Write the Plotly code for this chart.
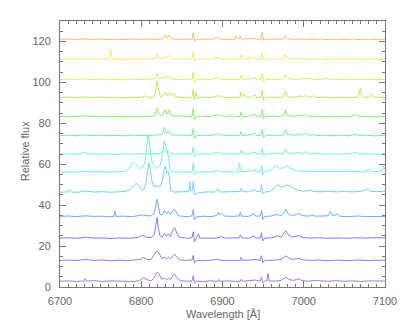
import plotly.graph_objects as go

# each spectrum: (wavelength [A], relative flux incl. vertical offset), bottom to top
spec_01 = [(6700, 2.8), (6710, 3.0), (6720, 2.7), (6729.5, 2.9), (6731, 4.2), (6732.5, 2.9), (6742, 3.1), (6752, 2.7),
           (6762, 3.0), (6772, 2.8), (6782, 2.9), (6792, 2.7), (6798, 3.2), (6803, 4.6), (6807, 3.6), (6812, 3.0),
           (6816, 4.5), (6819, 7.1), (6822, 6.5), (6825, 3.8), (6828.5, 4.5), (6831, 3.5), (6833.5, 4.3), (6836, 3.6),
           (6839, 5.8), (6841, 6.3), (6844, 4.5), (6848, 3.1), (6855, 2.8), (6862.5, 3.0), (6864, 5.5), (6865.5, 1.8),
           (6868, 2.9), (6875, 2.7), (6885, 3.0), (6894, 2.8), (6895.5, 3.6), (6897, 2.8), (6908, 3.0), (6916, 2.7),
           (6922, 2.9), (6923, 3.8), (6924.5, 2.8), (6932, 3.0), (6940, 3.4), (6946.5, 2.9), (6948, 4.9), (6949.5, 2.0),
           (6952, 2.9), (6954.5, 3.0), (6956, 6.6), (6957.5, 3.0), (6965, 2.9), (6972, 3.2), (6976, 4.3), (6978, 4.8),
           (6981, 3.9), (6986, 3.2), (6991, 3.6), (6994, 3.9), (6998, 3.1), (7006, 2.8), (7012, 3.2), (7020, 2.9),
           (7030, 2.8), (7040, 3.1), (7050, 2.8), (7060, 3.0), (7070, 2.7), (7080, 3.0), (7090, 2.8), (7100, 2.9)]
spec_02 = [(6700, 13.0), (6710, 13.2), (6720, 12.9), (6731, 13.5), (6742, 13.0), (6752, 13.2), (6762, 12.8), (6772, 13.1),
           (6782, 12.9), (6792, 13.0), (6798, 13.4), (6803, 14.4), (6807, 13.5), (6812, 13.4), (6816, 15.5), (6819, 17.6),
           (6822, 16.5), (6825, 14.0), (6828.5, 14.6), (6831, 13.8), (6833.5, 14.5), (6836, 13.8), (6839, 15.3), (6841, 16.0),
           (6844, 14.5), (6848, 13.2), (6855, 13.0), (6862.5, 13.2), (6864, 15.5), (6865.5, 11.8), (6868, 13.0), (6876, 12.8),
           (6886, 13.1), (6895, 13.6), (6897, 13.0), (6908, 13.1), (6922, 13.0), (6923, 14.5), (6924.5, 13.0), (6934, 13.2),
           (6940, 13.5), (6946.5, 13.0), (6948, 15.3), (6949.5, 11.9), (6952, 13.0), (6962, 13.1), (6972, 13.4), (6976, 14.8),
           (6978, 15.2), (6981, 14.3), (6986, 13.5), (6991, 13.8), (6994, 14.0), (6998, 13.3), (7008, 13.0), (7018, 13.2),
           (7030, 12.9), (7042, 13.1), (7054, 12.9), (7066, 13.2), (7078, 12.9), (7090, 13.1), (7100, 13.0)]
spec_03 = [(6700, 23.9), (6710, 24.1), (6720, 23.8), (6731, 24.3), (6742, 23.9), (6752, 24.0), (6762, 23.7), (6772, 24.0),
           (6782, 23.8), (6792, 24.0), (6798, 24.5), (6802, 25.5), (6806, 24.3), (6812, 24.2), (6816, 25.5), (6818, 30.0),
           (6819.5, 34.0), (6821, 29.0), (6823, 25.0), (6826, 24.5), (6828.5, 26.2), (6831, 24.8), (6833.5, 26.0), (6836, 24.6),
           (6839, 28.0), (6841, 29.0), (6843, 27.0), (6846, 24.5), (6852, 24.0), (6858, 23.8), (6862.5, 24.2), (6864, 27.0),
           (6865.5, 22.0), (6868, 23.8), (6870.5, 26.0), (6872, 23.9), (6880, 24.0), (6890, 23.8), (6900, 24.6), (6902, 23.9),
           (6912, 24.0), (6920.5, 24.0), (6922, 25.4), (6923.5, 24.0), (6932, 23.8), (6939, 24.9), (6941, 23.9), (6946.5, 24.0),
           (6948, 26.5), (6949.5, 22.5), (6952, 23.9), (6960, 24.0), (6968, 25.0), (6972, 24.3), (6976, 26.5), (6978, 27.5),
           (6980, 26.0), (6985, 24.5), (6991, 24.8), (6994, 25.2), (6998, 24.2), (7008, 23.9), (7018, 24.1), (7030, 23.8),
           (7042, 24.0), (7054, 23.8), (7066, 24.1), (7078, 23.9), (7090, 24.1), (7100, 24.0)]
spec_04 = [(6700, 34.5), (6710, 34.7), (6720, 34.4), (6731, 34.8), (6742, 34.5), (6752, 34.6), (6760, 34.3), (6766, 34.5),
           (6767.5, 37.0), (6769, 34.5), (6778, 34.6), (6788, 34.4), (6796, 34.8), (6801, 35.2), (6806, 34.9), (6812, 34.7),
           (6816, 36.0), (6818, 40.5), (6819.5, 43.0), (6821, 39.5), (6823, 35.5), (6826, 35.2), (6828.5, 37.5), (6831, 35.8),
           (6833.5, 37.0), (6836, 35.3), (6839, 37.5), (6841, 38.0), (6843, 36.5), (6846, 34.8), (6852, 34.5), (6858, 34.4),
           (6862.5, 34.8), (6864, 38.0), (6865.5, 32.8), (6868, 34.3), (6876, 34.6), (6886, 34.4), (6893, 35.0), (6895, 36.5),
           (6897, 35.2), (6899, 36.0), (6902, 34.7), (6912, 34.5), (6920.5, 34.7), (6922, 36.5), (6923.5, 34.6), (6932, 34.5),
           (6939, 35.8), (6941, 34.6), (6946.5, 34.7), (6948, 37.5), (6949.5, 33.0), (6952, 34.5), (6960, 34.7), (6967, 35.5),
           (6972, 34.8), (6976, 36.5), (6978, 38.0), (6980, 36.0), (6985, 35.0), (6991, 35.3), (6994, 36.0), (6998, 34.9),
           (7006, 34.6), (7010, 35.3), (7014, 34.6), (7024, 34.5), (7030, 34.8), (7033, 36.8), (7036, 34.8), (7041, 35.6),
           (7044, 34.6), (7054, 34.4), (7066, 34.7), (7078, 34.4), (7090, 34.6), (7100, 34.5)]
spec_05 = [(6700, 46.3), (6710, 46.5), (6712, 47.6), (6714, 46.4), (6722, 46.3), (6731, 46.9), (6742, 46.4), (6752, 46.6),
           (6762, 46.3), (6772, 46.6), (6780, 46.7), (6786, 47.5), (6790, 49.0), (6794, 50.8), (6797, 49.5), (6800, 47.8),
           (6803, 47.5), (6806, 51.0), (6808, 57.5), (6809.5, 60.5), (6811, 58.0), (6813, 52.0), (6816, 49.0), (6819.5, 49.5),
           (6823, 49.0), (6826, 52.0), (6828, 57.5), (6829.7, 58.8), (6831.5, 55.5), (6833.7, 56.4), (6835, 52.0), (6836.5, 47.0),
           (6840, 46.4), (6848, 46.5), (6855, 46.4), (6858.5, 46.6), (6859.7, 51.5), (6861, 47.0), (6862.7, 47.0), (6864, 51.5),
           (6865.5, 45.2), (6868, 45.8), (6874, 46.2), (6882, 46.5), (6890, 46.4), (6895, 47.8), (6897, 46.4), (6908, 46.6),
           (6916, 46.4), (6922, 46.7), (6923, 48.3), (6924.5, 46.6), (6932, 46.5), (6940, 47.6), (6942, 46.6), (6946.5, 46.8),
           (6948, 49.8), (6949.5, 45.5), (6952, 46.4), (6958, 46.7), (6963, 48.0), (6968, 50.0), (6973, 48.7), (6979, 49.8),
           (6983, 49.5), (6988, 48.0), (6994, 47.2), (7000, 46.8), (7009, 47.4), (7011, 46.7), (7020, 46.5), (7030, 46.8),
           (7040, 46.5), (7050, 46.7), (7060, 46.5), (7070, 46.7), (7079.5, 48.0), (7082, 46.8), (7090, 46.6), (7100, 46.8)]
spec_06 = [(6700, 56.1), (6710, 56.3), (6720, 56.0), (6731, 56.6), (6742, 56.2), (6752, 56.4), (6762, 56.1), (6772, 56.3),
           (6780, 56.6), (6785, 58.0), (6789, 60.5), (6791, 61.0), (6794, 59.5), (6798, 58.0), (6802, 58.3), (6805, 62.0),
           (6807, 70.0), (6808.5, 74.5), (6810, 71.0), (6812, 63.0), (6815, 59.5), (6819.5, 58.0), (6823, 59.0), (6826, 64.0),
           (6828.5, 71.5), (6830, 69.0), (6832, 65.5), (6834, 63.0), (6835.5, 57.0), (6838, 56.3), (6846, 56.3), (6855, 56.1),
           (6862.5, 56.3), (6864, 60.5), (6865.5, 54.8), (6868, 56.0), (6876, 56.3), (6886, 56.2), (6895, 56.9), (6897, 56.2),
           (6908, 56.4), (6914, 56.1), (6919.5, 56.3), (6921, 60.5), (6922.5, 56.3), (6932, 56.4), (6940, 57.2), (6942, 56.3),
           (6946.5, 56.5), (6948, 59.5), (6949.5, 55.0), (6952, 56.4), (6958, 57.0), (6962, 58.0), (6966, 59.5), (6970, 58.0),
           (6974, 58.0), (6979, 59.2), (6983, 58.3), (6988, 57.0), (6995, 56.6), (7005, 56.5), (7015, 56.3), (7025, 56.5),
           (7035, 56.3), (7045, 56.5), (7055, 56.3), (7065, 56.5), (7075, 56.3), (7079.5, 57.5), (7082, 56.5), (7090, 56.4),
           (7096, 56.6), (7098, 59.0), (7100, 57.5)]
spec_07 = [(6700, 64.9), (6710, 65.1), (6720, 64.8), (6731, 65.8), (6734, 65.0), (6742, 65.1), (6752, 64.8), (6762, 65.0),
           (6772, 64.8), (6782, 65.1), (6792, 64.9), (6802, 65.2), (6810, 65.0), (6818, 65.4), (6822, 65.1), (6826, 66.0),
           (6828.5, 67.4), (6831, 65.8), (6833, 66.5), (6835.5, 65.1), (6842, 65.0), (6850, 65.2), (6857, 64.9), (6862.5, 65.1),
           (6864, 68.5), (6865.5, 63.8), (6868, 64.9), (6876, 65.1), (6886, 64.9), (6895, 66.0), (6897, 65.0), (6908, 65.2),
           (6915, 64.9), (6921.5, 65.1), (6923, 67.0), (6924.5, 65.0), (6932, 65.1), (6940, 66.0), (6942, 65.0), (6947.5, 65.1),
           (6949, 68.0), (6950.5, 64.2), (6953, 65.0), (6962, 65.2), (6970, 65.0), (6975.5, 65.4), (6977.5, 67.5), (6980, 65.5),
           (6988, 65.1), (6995, 65.9), (6998, 65.1), (7003, 66.2), (7006, 65.0), (7016, 65.2), (7026, 64.9), (7036, 65.1),
           (7046, 64.9), (7056, 65.1), (7065, 65.8), (7068, 65.0), (7078, 65.1), (7088, 64.9), (7100, 65.1)]
spec_08 = [(6700, 74.0), (6710, 74.2), (6720, 73.9), (6730, 74.3), (6740, 74.0), (6750, 74.2), (6760, 73.9), (6770, 74.1),
           (6780, 73.9), (6790, 74.2), (6800, 74.0), (6810, 74.3), (6818, 74.2), (6820, 74.8), (6822, 74.2), (6826, 75.0),
           (6828.5, 78.0), (6831, 75.0), (6833.5, 76.2), (6836, 74.5), (6842, 74.1), (6850, 74.3), (6857, 73.9), (6862.5, 74.2),
           (6864, 77.5), (6865.5, 72.5), (6868, 73.9), (6876, 74.2), (6886, 74.0), (6895, 75.0), (6897, 74.1), (6900, 74.6),
           (6902, 74.0), (6912, 74.2), (6921.5, 74.1), (6923, 76.0), (6924.5, 74.0), (6932, 74.2), (6940, 75.2), (6942, 74.0),
           (6947.5, 74.2), (6949, 77.0), (6950.5, 73.0), (6953, 74.0), (6962, 74.2), (6970, 74.0), (6975.5, 74.4), (6977.5, 76.8),
           (6980, 74.5), (6988, 74.1), (6995, 75.0), (6998, 74.1), (7003, 75.2), (7006, 74.0), (7012, 74.6), (7016, 74.0),
           (7026, 74.2), (7036, 73.9), (7046, 74.2), (7056, 73.9), (7065, 74.8), (7068, 74.0), (7078, 74.2), (7088, 73.9),
           (7100, 74.1)]
spec_09 = [(6700, 83.3), (6710, 83.5), (6720, 83.2), (6730, 83.6), (6740, 83.3), (6750, 83.5), (6760, 83.2), (6770, 83.4),
           (6780, 83.2), (6790, 83.5), (6800, 83.3), (6810, 83.6), (6816, 83.5), (6818, 85.5), (6819.6, 87.4), (6821.5, 85.0),
           (6824, 83.6), (6827, 84.5), (6829.5, 86.9), (6831.5, 84.5), (6834.5, 86.4), (6836.5, 84.0), (6842, 83.4), (6850, 83.6),
           (6857, 83.2), (6862.5, 83.5), (6864, 87.4), (6865.5, 81.8), (6868, 83.2), (6876, 83.5), (6886, 83.3), (6895, 84.4),
           (6897, 83.4), (6899, 84.2), (6901, 83.3), (6910, 83.5), (6912, 84.2), (6914, 83.4), (6921.5, 83.4), (6923, 85.5),
           (6924.5, 83.3), (6932, 83.5), (6940, 84.6), (6942, 83.3), (6947.5, 83.5), (6949, 86.9), (6950.5, 82.0), (6953, 83.3),
           (6962, 83.5), (6970, 83.3), (6975.5, 83.7), (6977.5, 86.4), (6980, 83.8), (6988, 83.4), (6995, 84.0), (6998, 83.4),
           (7003, 84.4), (7006, 83.3), (7016, 83.5), (7026, 83.2), (7036, 83.5), (7046, 83.2), (7056, 83.4), (7065, 84.4),
           (7068, 83.3), (7078, 83.5), (7088, 83.2), (7100, 83.4)]
spec_10 = [(6700, 92.6), (6710, 92.8), (6720, 92.5), (6730, 92.9), (6740, 92.6), (6750, 92.8), (6760, 92.5), (6770, 92.7),
           (6780, 92.5), (6790, 92.8), (6800, 92.6), (6804, 93.4), (6808, 92.7), (6815, 92.8), (6817.5, 95.0), (6819.6, 100.8),
           (6821.5, 96.0), (6823.5, 93.0), (6827, 93.5), (6829.5, 95.0), (6831.5, 93.4), (6834.5, 94.8), (6837, 93.3), (6840, 94.8),
           (6842.5, 92.9), (6850, 92.7), (6857, 92.5), (6862.5, 92.8), (6864, 96.6), (6865.5, 91.5), (6867.5, 95.0), (6869, 92.5),
           (6876, 92.8), (6886, 92.6), (6895, 93.6), (6897, 92.7), (6899, 93.4), (6901, 92.6), (6912, 92.8), (6921.5, 92.7),
           (6923, 95.4), (6924.5, 93.0), (6926.8, 94.1), (6928.5, 92.7), (6935, 92.8), (6940, 94.1), (6942, 92.6), (6947.5, 92.8),
           (6949, 96.3), (6950.5, 91.4), (6953, 92.6), (6962, 92.8), (6970, 92.6), (6975.5, 93.0), (6977.5, 95.8), (6980, 93.0),
           (6988, 92.7), (6995, 93.4), (6998, 92.7), (7003, 93.6), (7006, 92.6), (7012, 93.4), (7015, 92.6), (7026, 92.8),
           (7036, 92.5), (7046, 92.8), (7056, 92.5), (7066, 92.8), (7068, 94.0), (7069.5, 97.0), (7071, 93.5), (7073, 92.7),
           (7080, 92.8), (7083.5, 94.5), (7086, 92.8), (7094, 92.6), (7100, 92.7)]
spec_11 = [(6700, 101.4), (6710, 101.6), (6720, 101.3), (6730, 101.7), (6740, 101.4), (6750, 101.6), (6760, 101.3),
           (6770, 101.5), (6780, 101.3), (6790, 101.6), (6800, 101.4), (6810, 101.6), (6817.5, 101.8), (6819.6, 104.6),
           (6821.5, 102.0), (6827, 101.9), (6829.5, 103.4), (6831.5, 102.0), (6834.5, 103.0), (6837, 101.6), (6845, 101.4),
           (6853, 101.6), (6862.5, 101.5), (6864, 105.2), (6865.5, 100.2), (6868, 101.3), (6876, 101.6), (6886, 101.4),
           (6895, 102.4), (6897, 101.5), (6910, 101.6), (6921.5, 101.5), (6923, 103.6), (6924.5, 101.5), (6932, 101.6),
           (6940, 102.4), (6942, 101.4), (6947.5, 101.6), (6949, 104.4), (6950.5, 100.5), (6953, 101.4), (6962, 101.6),
           (6970, 101.4), (6975.5, 101.8), (6977.5, 103.8), (6980, 101.8), (6990, 101.5), (7000, 101.7), (7009, 102.0),
           (7012, 101.4), (7022, 101.6), (7027, 102.1), (7030, 101.5), (7040, 101.6), (7050, 101.3), (7060, 101.6),
           (7070, 101.4), (7080, 101.6), (7090, 101.3), (7100, 101.5)]
spec_12 = [(6700, 111.3), (6710, 111.5), (6720, 111.2), (6730, 111.6), (6740, 111.3), (6750, 111.5), (6760, 111.3),
           (6761.2, 115.8), (6762.8, 115.8), (6764, 111.3), (6772, 111.5), (6782, 111.2), (6792, 111.5), (6800, 111.3),
           (6810, 111.5), (6817.5, 111.7), (6819.6, 113.9), (6821.5, 111.8), (6827, 111.7), (6829.5, 112.8), (6831.5, 111.8),
           (6834.5, 113.2), (6837, 111.5), (6845, 111.3), (6853, 111.5), (6862.5, 111.4), (6864, 115.0), (6865.5, 110.5),
           (6868, 111.3), (6876, 111.5), (6886, 111.3), (6895, 112.4), (6897, 111.4), (6910, 111.5), (6921.5, 111.4),
           (6923, 113.5), (6924.5, 111.4), (6932, 111.5), (6940, 112.2), (6942, 111.3), (6947.5, 111.5), (6949, 114.3),
           (6950.5, 110.6), (6953, 111.3), (6962, 111.5), (6970, 111.3), (6975.5, 111.7), (6977.5, 113.8), (6980, 111.7),
           (6990, 111.4), (7000, 111.6), (7010, 111.3), (7020, 111.5), (7030, 111.2), (7040, 111.5), (7050, 111.3),
           (7060, 111.5), (7070, 111.2), (7080, 111.5), (7090, 111.3), (7100, 111.4)]
spec_13 = [(6700, 121.0), (6710, 121.2), (6720, 120.9), (6730, 121.3), (6740, 121.0), (6750, 121.2), (6760, 120.9),
           (6770, 121.1), (6780, 120.9), (6790, 121.2), (6800, 121.0), (6810, 121.2), (6820, 121.0), (6826, 121.3),
           (6829.5, 123.0), (6831.5, 121.5), (6834.5, 123.3), (6837, 121.3), (6845, 121.0), (6853, 121.2), (6862.5, 121.1),
           (6864, 124.3), (6865.5, 120.4), (6868, 121.0), (6876, 121.2), (6886, 121.0), (6895, 122.0), (6897, 121.1),
           (6908, 121.2), (6915, 121.0), (6916.8, 122.8), (6918.5, 121.3), (6920.5, 121.3), (6922, 122.8), (6923.5, 121.1),
           (6932, 121.2), (6940, 121.6), (6942, 121.0), (6947.5, 121.2), (6949, 124.6), (6950.5, 120.5), (6953, 121.0),
           (6962, 121.2), (6970, 121.0), (6975.5, 121.3), (6977.5, 123.0), (6980, 121.3), (6990, 121.0), (7000, 121.2),
           (7010, 120.9), (7020, 121.2), (7030, 120.9), (7040, 121.1), (7050, 120.9), (7060, 121.2), (7070, 120.9),
           (7080, 121.1), (7090, 120.9), (7100, 121.1)]

spectra = [spec_01, spec_02, spec_03, spec_04, spec_05, spec_06, spec_07,
           spec_08, spec_09, spec_10, spec_11, spec_12, spec_13]
colors = ["#a77bd6", "#8f7af0", "#7a80ff", "#6fa8ff", "#6fd0ff", "#6feef2", "#6ff7d0",
          "#6ff29e", "#86f070", "#b4f060", "#dcf060", "#ffe46f", "#ffbb70"]

fig = go.Figure()
for spec, col in zip(spectra, colors):
    wl, fl = zip(*spec)
    fig.add_trace(go.Scatter(x=wl, y=fl, mode="lines", line=dict(color=col, width=1),
                             showlegend=False, hoverinfo="skip"))

axis_style = dict(showline=True, linecolor="#777", linewidth=1, mirror="allticks",
                  ticks="inside", ticklen=6, tickcolor="#777", showgrid=False, zeroline=False,
                  tickfont=dict(size=11, color="#666", family="Liberation Sans"))

# the page body adds an 8px offset, so the figure is a bit smaller than the window
fig.update_layout(
    width=401, height=319,
    margin=dict(l=52, r=17, t=12, b=40),
    paper_bgcolor="white", plot_bgcolor="white",
    font=dict(family="Liberation Sans", size=11, color="#666"),
    xaxis=dict(range=[6700, 7100], dtick=100, tick0=6700,
               minor=dict(dtick=10, ticklen=3, tickcolor="#777", ticks="inside"),
               ticklabelstandoff=4, **axis_style),
    yaxis=dict(range=[0, 130], dtick=20, tick0=0,
               minor=dict(dtick=5, ticklen=3, tickcolor="#777", ticks="inside"),
               ticklabelstandoff=6, **axis_style),
    annotations=[
        dict(text="Wavelength [Å]", xref="paper", yref="paper", x=0.5, y=-0.1,
             xanchor="center", yanchor="middle", showarrow=False,
             font=dict(size=11, color="#666")),
        dict(text="Relative flux", xref="paper", yref="paper", x=-0.108, y=0.51,
             xanchor="center", yanchor="middle", showarrow=False, textangle=-90,
             font=dict(size=11, color="#666")),
    ],
)

fig.write_html("out.html")
